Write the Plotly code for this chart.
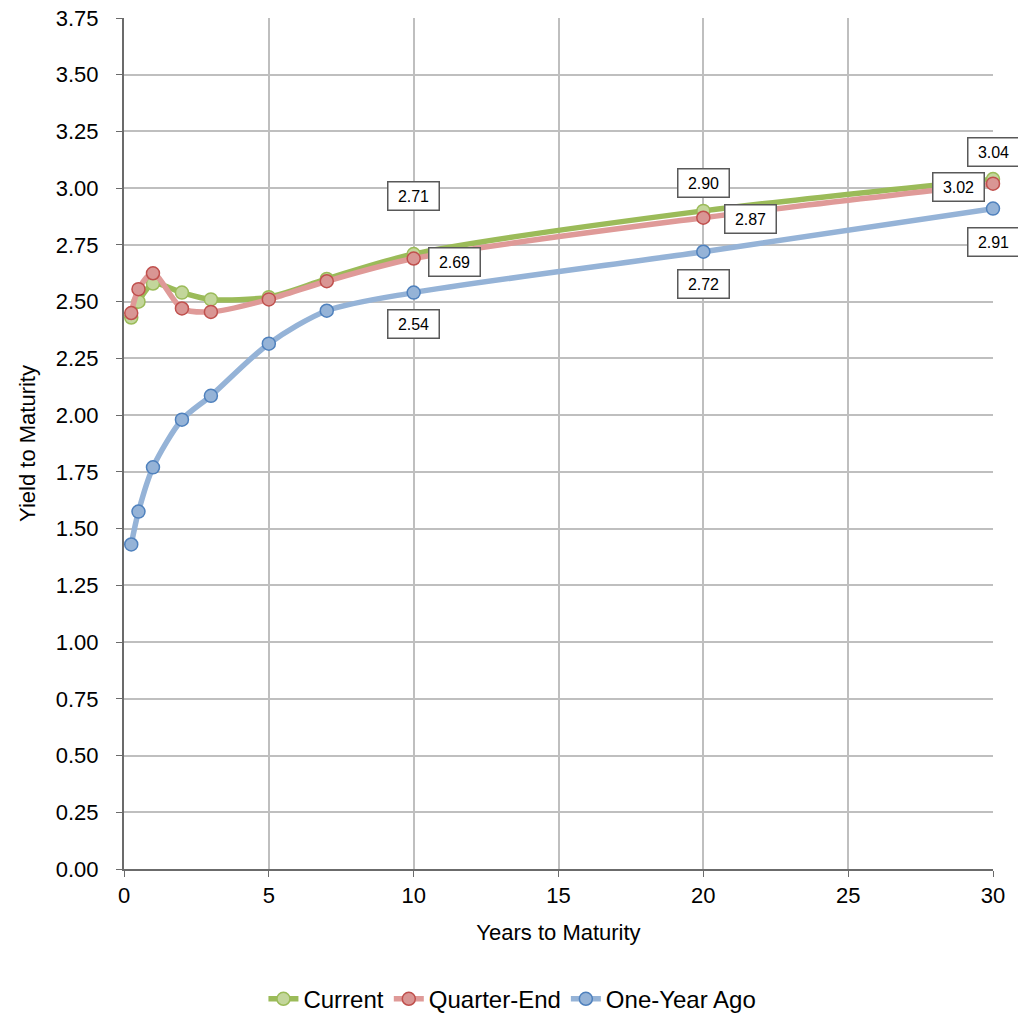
import plotly.graph_objects as go

maturity = [0.25, 0.5, 1, 2, 3, 5, 7, 10, 20, 30]
current = [2.43, 2.50, 2.58, 2.54, 2.51, 2.52, 2.60, 2.71, 2.90, 3.04]
quarter_end = [2.45, 2.555, 2.625, 2.47, 2.455, 2.51, 2.59, 2.69, 2.87, 3.02]
one_year_ago = [1.43, 1.575, 1.77, 1.98, 2.085, 2.315, 2.46, 2.54, 2.72, 2.91]

series_names = ["Current", "Quarter-End", "One-Year Ago"]
x_ticks = [0, 5, 10, 15, 20, 25, 30]

styles = [
    dict(line="#9BBB59", fill="#C3D69B", edge="#9BBB59"),
    dict(line="#DF9A98", fill="#D99694", edge="#C0504D"),
    dict(line="#95B3D7", fill="#95B3D7", edge="#4F81BD"),
]

FONT = "Liberation Sans, Arial, sans-serif"

fig = go.Figure()
for name, ys, st in zip(series_names, [current, quarter_end, one_year_ago], styles):
    fig.add_trace(go.Scatter(
        x=maturity, y=ys, name=name, mode="lines+markers",
        line=dict(color=st["line"], width=5.5, shape="spline", smoothing=0.8),
        marker=dict(size=13, color=st["fill"], line=dict(color=st["edge"], width=1.5)),
        cliponaxis=False,
    ))

# data labels: (series, index, xshift, yshift)
label_specs = [
    (current, 7, 0, 58), (current, 8, 0, 28), (current, 9, 0, 27),
    (quarter_end, 7, 41, -3), (quarter_end, 8, 47, -1), (quarter_end, 9, -35, -3),
    (one_year_ago, 7, 0, -31), (one_year_ago, 8, 0, -32), (one_year_ago, 9, 0, -33),
]
for ys, i, dx, dy in label_specs:
    fig.add_annotation(
        x=maturity[i], y=ys[i], xref="x", yref="y", text=f"{ys[i]:.2f}",
        showarrow=False, xshift=dx, yshift=dy, width=42, height=19,
        font=dict(family=FONT, size=16, color="#000000"),
        bgcolor="white", bordercolor="#595959", borderwidth=1.5, borderpad=4,
    )

fig.update_layout(
    width=1018, height=1013,
    margin=dict(l=124, r=25, t=18, b=144, autoexpand=False),
    plot_bgcolor="white", paper_bgcolor="white",
    font=dict(family=FONT, size=22, color="#000000"),
    showlegend=True,
    legend=dict(orientation="h", x=0.447, xanchor="center", y=-0.153, yanchor="middle",
                font=dict(size=24), tracegroupgap=0),
)
fig.update_xaxes(
    range=[0, 30], tickvals=x_ticks, showgrid=True, gridcolor="#BFBFBF", gridwidth=1.5,
    showline=True, linecolor="#6B6B6B", linewidth=2, ticks="outside", ticklen=6,
    tickcolor="#6B6B6B", zeroline=False, automargin=False, ticklabeloverflow="allow",
    title=dict(text="Years to Maturity", font=dict(size=22), standoff=17),
    tickfont=dict(size=22),
)
fig.update_yaxes(
    range=[0, 3.75], dtick=0.25, tickformat=".2f", showgrid=True, gridcolor="#BFBFBF",
    gridwidth=1.5, showline=True, linecolor="#6B6B6B", linewidth=2, ticks="outside",
    ticklen=6, tickcolor="#6B6B6B", zeroline=False, automargin=False,
    ticklabeloverflow="allow", ticklabelstandoff=13,
    title=dict(text="Yield to Maturity", font=dict(size=22), standoff=14),
    tickfont=dict(size=22),
)

fig.write_html("out.html", config={"displayModeBar": False},
               post_script="document.body.style.margin='0';")
